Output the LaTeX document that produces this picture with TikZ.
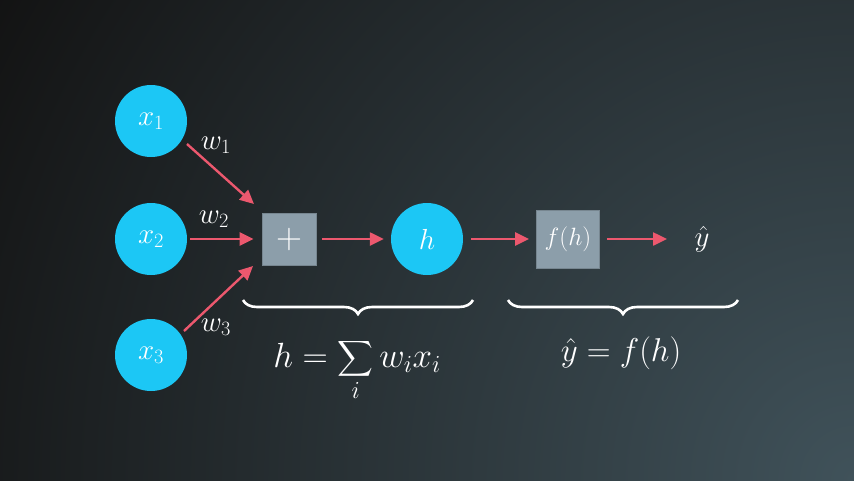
\RequirePackage{fix-cm}
\documentclass[tikz,border=0pt]{standalone}
\usepackage{amsmath}
\usetikzlibrary{arrows.meta,decorations.pathreplacing}
\definecolor{bgA}{RGB}{18,18,18}
\definecolor{bgB}{RGB}{64,82,90}
\definecolor{neuron}{RGB}{28,199,245}
\definecolor{opbox}{RGB}{140,158,170}
\definecolor{wire}{RGB}{236,88,110}
\tikzset{
  neuronnode/.style={circle,fill=neuron,minimum size=72pt,inner sep=0pt,text=white,font=\fontsize{29}{33}\selectfont},
  opnode/.style={rectangle,fill=opbox,draw=opbox!85!black,line width=0.8pt,inner sep=0pt,text=white},
  wirearrow/.style={draw=wire,line width=2.4pt,-{Triangle[length=14pt,width=13pt]}},
  wlabel/.style={text=white,font=\fontsize{29}{33}\selectfont},
  bracestyle/.style={draw=white,line width=2.6pt,decorate,decoration={brace,mirror,amplitude=14pt}},
  formula/.style={text=white,font=\fontsize{33}{38}\selectfont}
}
\begin{document}
\begin{tikzpicture}[x=1pt,y=-1pt]
\useasboundingbox (0,0) rectangle (854,480);
\fill[bgA] (0,0) rectangle (854,480);
\begin{scope}
\clip (0,0) rectangle (854,480);
\shade[inner color=bgB,outer color=bgA] (854,480) circle (1000);
\end{scope}
\node[neuronnode] (x1) at (151,121) {$x_1$};
\node[neuronnode] (x2) at (151,239) {$x_2$};
\node[neuronnode] (x3) at (151,355) {$x_3$};
\node[opnode,minimum width=54pt,minimum height=52pt,font=\fontsize{36}{40}\selectfont] (sum) at (289,239) {$+$};
\node[neuronnode] (h) at (427,239) {$h$};
\node[opnode,minimum width=63pt,minimum height=58pt,font=\fontsize{25}{29}\selectfont] (f) at (568,239) {$f(h)$};
\node[wlabel] (yhat) at (702,239) {$\hat{y}$};
\coordinate (sumin1) at (254,204);
\coordinate (sumin3) at (253,266);
\draw[wirearrow] (187,144) -- (sumin1);
\draw[wirearrow] (x2.east) ++(3,0) -- ([xshift=-8pt]sum.west);
\draw[wirearrow] (184,331) -- (sumin3);
\draw[wirearrow] ([xshift=6pt]sum.east) -- ([xshift=-7pt]h.west);
\draw[wirearrow] ([xshift=8pt]h.east) -- ([xshift=-7pt]f.west);
\draw[wirearrow] ([xshift=7pt]f.east) -- ([xshift=-24pt]yhat.west);
\node[wlabel] (w1) at (216,145) {$w_1$};
\node[wlabel] (w2) at (214,219) {$w_2$};
\node[wlabel] (w3) at (216,327) {$w_3$};
\coordinate (b1l) at (243,300);
\coordinate (b1r) at (473,300);
\coordinate (b2l) at (508,300);
\coordinate (b2r) at (738,300);
\draw[bracestyle] (b1l) -- (b1r);
\draw[bracestyle] (b2l) -- (b2r);
\node[formula,font=\fontsize{35}{40}\selectfont] (eq1) at (357,370) {$\displaystyle h=\sum_i w_i x_i$};
\node[formula] (eq2) at (621,353) {$\hat{y}=f(h)$};
\end{tikzpicture}
\end{document}
